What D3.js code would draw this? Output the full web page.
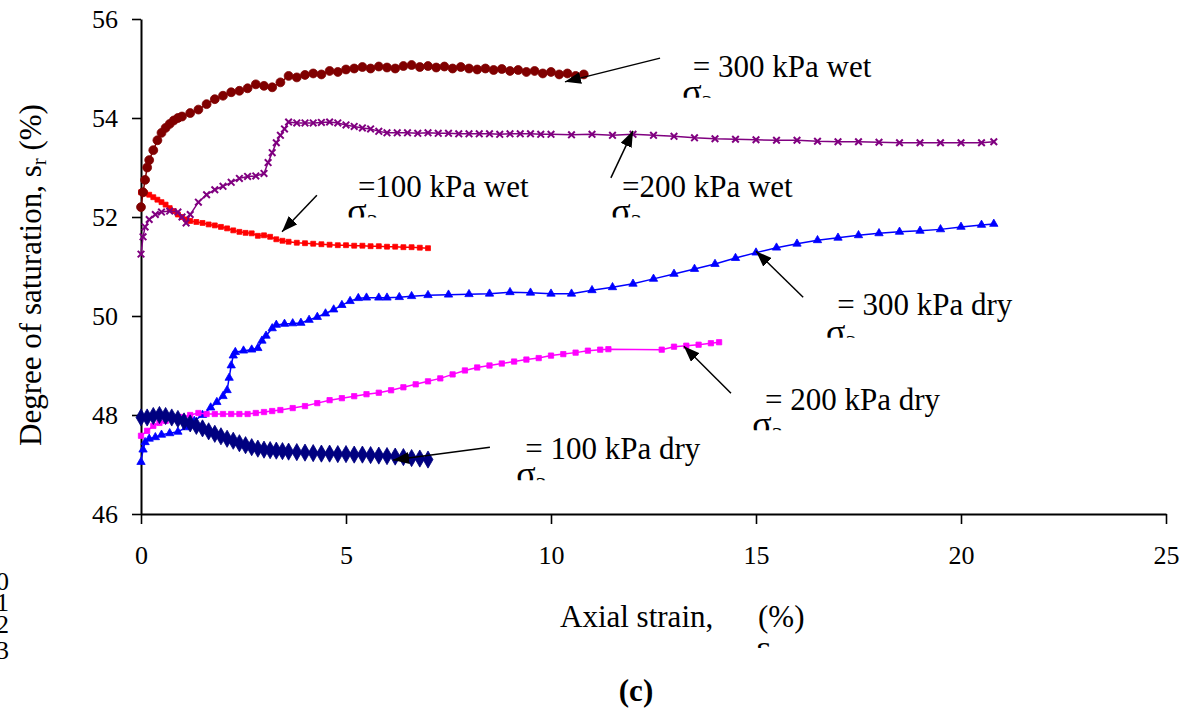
<!DOCTYPE html>
<html>
<head>
<meta charset="utf-8">
<script src="https://cdn.jsdelivr.net/npm/d3@7"></script>
<style>
  body { margin: 0; background: #fff; }
  svg text { font-family: "Liberation Serif", "Times New Roman", serif; fill: #000; }
</style>
</head>
<body>
<svg id="chart" width="1185" height="708"></svg>
<script>
// axial strain (%), degree of saturation (%)
const wet300 = [[0,52.2],[0.05,52.5],[0.1,52.75],[0.15,53.0],[0.2,53.15],[0.3,53.35],[0.4,53.55],[0.5,53.7],[0.6,53.8],[0.7,53.88],[0.8,53.95],[0.9,54.0],[1.0,54.03],[1.2,54.1],[1.4,54.17],[1.6,54.28],[1.8,54.38],[2.0,54.45],[2.2,54.52],[2.4,54.55],[2.6,54.6],[2.8,54.68],[3.0,54.65],[3.2,54.62],[3.4,54.72],[3.6,54.85],[3.8,54.82],[4.0,54.87],[4.2,54.9],[4.4,54.88],[4.6,54.95],[4.8,54.93],[5.0,54.98],[5.2,55.0],[5.4,55.03],[5.6,55.0],[5.8,55.04],[6.0,55.02],[6.2,55.0],[6.4,55.05],[6.6,55.07],[6.8,55.03],[7.0,55.05],[7.2,55.02],[7.4,55.04],[7.6,55.0],[7.8,55.03],[8.0,55.0],[8.2,54.98],[8.4,55.0],[8.6,54.97],[8.8,54.99],[9.0,54.95],[9.2,54.97],[9.4,54.93],[9.6,54.95],[9.8,54.9],[10.0,54.93],[10.2,54.88],[10.4,54.9],[10.6,54.85],[10.8,54.88]];
const wet200 = [[0,51.25],[0.05,51.6],[0.1,51.8],[0.2,51.95],[0.35,52.05],[0.5,52.1],[0.7,52.12],[0.9,52.1],[1.0,52.0],[1.1,51.88],[1.2,52.05],[1.4,52.3],[1.6,52.45],[1.8,52.55],[2.0,52.62],[2.2,52.7],[2.4,52.78],[2.6,52.82],[2.8,52.83],[3.0,52.88],[3.1,53.1],[3.2,53.3],[3.3,53.5],[3.4,53.65],[3.5,53.78],[3.6,53.92],[3.8,53.9],[4.0,53.9],[4.2,53.9],[4.4,53.91],[4.6,53.92],[4.8,53.9],[5.0,53.86],[5.2,53.83],[5.4,53.8],[5.6,53.78],[5.8,53.73],[6.0,53.7],[6.25,53.7],[6.5,53.7],[6.75,53.69],[7.0,53.7],[7.25,53.69],[7.5,53.69],[7.75,53.68],[8.0,53.68],[8.25,53.68],[8.5,53.68],[8.75,53.67],[9.0,53.68],[9.25,53.68],[9.5,53.68],[9.75,53.67],[10.0,53.67],[10.5,53.66],[11.0,53.67],[11.5,53.65],[12.0,53.67],[12.5,53.65],[13.0,53.63],[13.5,53.6],[14.0,53.58],[14.5,53.57],[15.0,53.56],[15.5,53.55],[16.0,53.55],[16.5,53.53],[17.0,53.52],[17.5,53.52],[18.0,53.51],[18.5,53.5],[19.0,53.5],[19.5,53.5],[20.0,53.5],[20.5,53.5],[20.8,53.52]];
const wet100 = [[0,52.5],[0.1,52.48],[0.2,52.45],[0.3,52.4],[0.4,52.35],[0.5,52.3],[0.6,52.25],[0.7,52.18],[0.8,52.12],[0.9,52.05],[1.0,52.0],[1.1,51.95],[1.2,51.92],[1.35,51.9],[1.5,51.88],[1.65,51.85],[1.8,51.83],[1.95,51.8],[2.1,51.77],[2.25,51.73],[2.4,51.7],[2.55,51.68],[2.7,51.67],[2.85,51.62],[3.0,51.63],[3.15,51.6],[3.3,51.55],[3.45,51.52],[3.6,51.5],[3.8,51.48],[4.0,51.47],[4.2,51.46],[4.4,51.45],[4.6,51.44],[4.8,51.43],[5.0,51.43],[5.2,51.42],[5.4,51.42],[5.6,51.41],[5.8,51.41],[6.0,51.4],[6.2,51.4],[6.4,51.39],[6.6,51.39],[6.8,51.38],[7.0,51.37]];
const dry300 = [[0,47.05],[0.05,47.3],[0.1,47.45],[0.2,47.52],[0.35,47.55],[0.5,47.6],[0.7,47.63],[0.9,47.66],[1.1,47.75],[1.3,47.88],[1.5,48.0],[1.7,48.15],[1.85,48.26],[2.0,48.38],[2.1,48.5],[2.15,48.75],[2.2,49.0],[2.25,49.2],[2.3,49.27],[2.5,49.3],[2.7,49.32],[2.85,49.35],[2.95,49.5],[3.05,49.6],[3.2,49.75],[3.3,49.82],[3.5,49.84],[3.7,49.85],[3.9,49.86],[4.1,49.92],[4.3,49.98],[4.5,50.05],[4.7,50.13],[4.9,50.22],[5.1,50.3],[5.3,50.36],[5.5,50.37],[5.8,50.37],[6.0,50.37],[6.3,50.38],[6.6,50.4],[7.0,50.42],[7.5,50.43],[8.0,50.44],[8.5,50.45],[9.0,50.48],[9.5,50.47],[10.0,50.45],[10.5,50.45],[11.0,50.52],[11.5,50.58],[12.0,50.65],[12.5,50.75],[13.0,50.85],[13.5,50.95],[14.0,51.05],[14.5,51.17],[15.0,51.28],[15.5,51.38],[16.0,51.46],[16.5,51.53],[17.0,51.58],[17.5,51.63],[18.0,51.67],[18.5,51.7],[19.0,51.72],[19.5,51.75],[20.0,51.8],[20.5,51.84],[20.8,51.86]];
const dry200 = [[0,47.58],[0.15,47.68],[0.3,47.78],[0.45,47.84],[0.6,47.88],[0.8,47.92],[1.0,47.96],[1.2,48.0],[1.4,48.04],[1.6,48.02],[1.8,48.02],[2.0,48.02],[2.2,48.02],[2.4,48.02],[2.6,48.02],[2.8,48.04],[3.0,48.06],[3.2,48.08],[3.4,48.1],[3.7,48.14],[4.0,48.18],[4.3,48.24],[4.6,48.3],[4.9,48.34],[5.2,48.38],[5.5,48.42],[5.8,48.45],[6.1,48.5],[6.4,48.56],[6.7,48.62],[7.0,48.68],[7.3,48.74],[7.6,48.82],[7.9,48.9],[8.2,48.96],[8.5,49.0],[8.8,49.04],[9.1,49.08],[9.4,49.12],[9.7,49.15],[10.0,49.2],[10.3,49.23],[10.6,49.26],[10.9,49.3],[11.2,49.32],[11.4,49.33],[12.7,49.32],[13.0,49.38],[13.3,49.4],[13.6,49.42],[13.9,49.45],[14.1,49.47]];
const dry100 = [[0,47.95],[0.15,47.95],[0.3,47.98],[0.45,48.0],[0.6,47.98],[0.75,47.95],[0.9,47.92],[1.05,47.87],[1.2,47.83],[1.35,47.78],[1.5,47.73],[1.65,47.67],[1.8,47.62],[1.95,47.57],[2.1,47.52],[2.25,47.48],[2.4,47.43],[2.55,47.39],[2.7,47.35],[2.85,47.32],[3.0,47.3],[3.15,47.29],[3.3,47.28],[3.45,47.27],[3.6,47.26],[3.8,47.25],[4.0,47.24],[4.2,47.23],[4.4,47.22],[4.6,47.22],[4.8,47.21],[5.0,47.21],[5.2,47.2],[5.4,47.2],[5.6,47.19],[5.8,47.18],[6.0,47.17],[6.2,47.16],[6.4,47.15],[6.6,47.13],[6.8,47.12],[7.0,47.1]];

const xTicks = [0, 5, 10, 15, 20, 25];
const yTicks = [46, 48, 50, 52, 54, 56];
const labels = ["= 300 kPa wet", "=200 kPa wet", "=100 kPa wet", "= 300 kPa dry", "= 200 kPa dry", "= 100 kPa dry"];
const lineNumbers = ["0", "1", "2", "3"];

const svg = d3.select("#chart");
const x = d3.scaleLinear().domain([0, 25]).range([141, 1166]);
const y = d3.scaleLinear().domain([46, 56]).range([514, 19]);

// series styling, drawn bottom to top
const series = [
  {data: dry300, color: "#0000ff", symbol: d3.symbolTriangle, size: 30},
  {data: dry200, color: "#ff00ff", symbol: d3.symbolSquare, size: 28},
  {data: dry100, color: "#000080", symbol: d3.symbolDiamond, size: 85},
  {data: wet100, color: "#ff0000", symbol: d3.symbolSquare, size: 24},
  {data: wet200, color: "#800080", symbol: d3.symbolTimes, size: 30, stroke: true},
  {data: wet300, color: "#800000", symbol: d3.symbolCircle, size: 62}
];

// annotations: label index, arrow tail/tip, text anchor and sigma baseline in data units
const notes = [
  {i: 0, tail: [12.66, 55.21], tip: [10.34, 54.73], at: [13.46, 54.83], sig: [13.20, 54.29]},
  {i: 1, tail: [11.46, 52.79], tip: [12.0, 53.74], at: [11.73, 52.40], sig: [11.47, 51.87]},
  {i: 2, tail: [4.29, 52.44], tip: [3.44, 51.70], at: [5.29, 52.40], sig: [5.03, 51.87]},
  {i: 3, tail: [16.15, 50.38], tip: [15.0, 51.31], at: [16.98, 50.02], sig: [16.71, 49.44]},
  {i: 4, tail: [14.39, 48.44], tip: [13.24, 49.39], at: [15.22, 48.10], sig: [14.91, 47.57]},
  {i: 5, tail: [8.51, 47.35], tip: [6.15, 47.09], at: [9.37, 47.11], sig: [9.15, 46.56]}
];

const defs = svg.append("defs");
defs.append("marker")
    .attr("id", "head")
    .attr("viewBox", "0 0 16 12")
    .attr("refX", 16).attr("refY", 6)
    .attr("markerWidth", 16).attr("markerHeight", 12)
    .attr("markerUnits", "userSpaceOnUse")
    .attr("orient", "auto")
  .append("path")
    .attr("d", "M0,0L16,6L0,12Z")
    .attr("fill", "#000");

// axes
const gx = svg.append("g").attr("transform", `translate(0,${y(46)})`);
gx.call(d3.axisBottom(x).tickValues(d3.range(0, 26, 1)).tickSize(7).tickFormat("").tickSizeOuter(0));
gx.call(d3.axisBottom(x).tickValues(xTicks).tickSize(10).tickPadding(22).tickSizeOuter(0));
gx.selectAll("text").attr("font-size", 26);

const gy = svg.append("g").attr("transform", `translate(${x(0)},0)`);
gy.call(d3.axisLeft(y).tickValues(d3.range(46, 56.01, 0.4)).tickSize(6).tickFormat("").tickSizeOuter(0));
gy.call(d3.axisLeft(y).tickValues(yTicks).tickSize(9).tickPadding(14).tickSizeOuter(0));
gy.selectAll("text").attr("font-size", 26);

svg.selectAll(".domain").attr("stroke", "#000").attr("stroke-width", 2);
svg.selectAll(".tick line").attr("stroke", "#000").attr("stroke-width", 1.6);

// series
const line = d3.line().x(d => x(d[0])).y(d => y(d[1]));
series.forEach(s => {
  const g = svg.append("g");
  g.append("path")
      .attr("d", line(s.data))
      .attr("fill", "none")
      .attr("stroke", s.color)
      .attr("stroke-width", 1.5);
  g.selectAll("path.pt")
    .data(s.data)
    .join("path")
      .attr("class", "pt")
      .attr("transform", d => `translate(${x(d[0])},${y(d[1])})`)
      .attr("d", d3.symbol(s.symbol, s.size))
      .attr("fill", s.stroke ? "none" : s.color)
      .attr("stroke", s.color)
      .attr("stroke-width", s.stroke ? 2 : 0.8);
});

// arrows and labels
notes.forEach((n, k) => {
  svg.append("line")
      .attr("x1", x(n.tail[0])).attr("y1", y(n.tail[1]))
      .attr("x2", x(n.tip[0])).attr("y2", y(n.tip[1]))
      .attr("stroke", "#000").attr("stroke-width", 1.5)
      .attr("marker-end", "url(#head)");
  svg.append("text")
      .attr("x", x(n.at[0])).attr("y", y(n.at[1]))
      .attr("font-size", 31)
      .text(labels[n.i]);
  // sigma_3 cut off by the bottom of its text box
  const sx = x(n.sig[0]), sy = y(n.sig[1]);
  defs.append("clipPath").attr("id", "clip" + k)
    .append("rect").attr("x", sx - 5).attr("y", sy - 24).attr("width", 45).attr("height", 18);
  const t = svg.append("text")
      .attr("x", sx).attr("y", sy)
      .attr("font-size", 36)
      .attr("clip-path", `url(#clip${k})`);
  t.append("tspan").text("σ");
  t.append("tspan").attr("font-size", 22).attr("dy", 6).text("3");
});

// axis titles
svg.append("text")
    .attr("transform", "translate(41,275) rotate(-90)")
    .attr("text-anchor", "middle")
    .attr("font-size", 31)
    .call(t => {
      t.append("tspan").text("Degree of saturation, s");
      t.append("tspan").attr("font-size", 21).attr("dy", 5).text("r");
      t.append("tspan").attr("dy", -5).text(" (%)");
    });

svg.append("text").attr("x", 560).attr("y", 627).attr("font-size", 31).text("Axial strain,");
svg.append("text").attr("x", 758).attr("y", 627).attr("font-size", 31).text("(%)");
defs.append("clipPath").attr("id", "clipEps")
  .append("rect").attr("x", 750).attr("y", 636).attr("width", 30).attr("height", 12);
svg.append("text").attr("x", 756).attr("y", 659).attr("font-size", 34)
    .attr("clip-path", "url(#clipEps)").text("ε");

svg.append("text").attr("x", 636).attr("y", 701).attr("text-anchor", "middle")
    .attr("font-size", 31).attr("font-weight", "bold").text("(c)");

// stray line numbers at the left edge of the page
svg.selectAll("text.ln")
  .data(lineNumbers)
  .join("text")
    .attr("class", "ln")
    .attr("x", 9)
    .attr("y", (d, i) => [590, 611, 633, 659][i])
    .attr("text-anchor", "end")
    .attr("font-size", 26)
    .text(d => d);
</script>
</body>
</html>
